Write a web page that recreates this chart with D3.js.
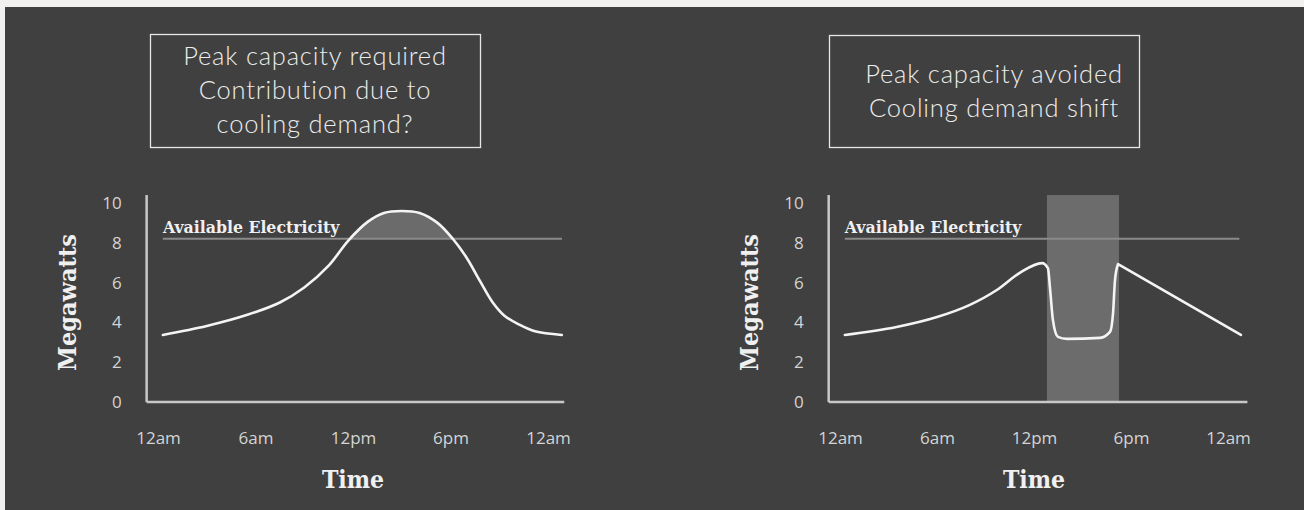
<!DOCTYPE html>
<html><head><meta charset="utf-8">
<script src="https://cdn.jsdelivr.net/npm/d3@7"></script>
<style>
html,body{margin:0;padding:0;background:#f2f1ef;}
svg{display:block;}
</style></head>
<body>
<svg id="chart" width="1304" height="510"></svg>
<script>
// ---- data ----
const xTickLabels = ["12am","6am","12pm","6pm","12am"];
const xTickHours = [0,6,12,18,24];
const yTicks = [0,2,4,6,8,10];
const availableElectricity = 8.2;

const titleLeft = ["Peak capacity required","Contribution due to","cooling demand?"];
const titleRight = ["Peak capacity avoided","Cooling demand shift"];

// demand without shift (hours, megawatts)
const demandHours = [0.3,3.0,5.5,7.5,9.0,10.5,11.7,12.9,13.9,15.0,16.1,17.2,18.15,19.0,19.8,20.6,21.3,22.2,23.2,24.85];
const demandValues = [3.37,3.82,4.38,5.0,5.75,6.85,8.1,9.05,9.5,9.6,9.5,9.0,8.19,7.24,6.1,5.0,4.35,3.9,3.55,3.37];

// demand with cooling shift (index of sharp corner where the straight decline starts)
const shiftHours = [0.3,3.5,6.0,8.0,9.7,11.1,12.5,12.86,13.0,13.17,13.48,14.04,16.08,16.7,16.89,17.01,17.2,24.8];
const shiftValues = [3.37,3.77,4.27,4.87,5.63,6.48,6.98,6.73,5.63,4.12,3.27,3.17,3.22,3.52,4.47,6.13,6.93,3.37];
const shiftCornerIndex = 16;
const shiftWindow = [12.8,17.26];

const svg = d3.select("#chart");
svg.append("rect").attr("x",5).attr("y",7).attr("width",1299).attr("height",503).attr("fill","#404040");

const slab = "'DejaVu Serif Condensed','DejaVu Serif',serif";
const sans = "'Open Sans', sans-serif";

function panel(opt){
  const x = d3.scaleLinear([0,24],opt.xr);
  const y = d3.scaleLinear([0,10],[402,203]);
  const g = svg.append("g");

  // title box
  g.append("rect").attr("x",opt.box[0]+0.5).attr("y",opt.box[1]+0.5)
    .attr("width",opt.box[2]).attr("height",opt.box[3])
    .attr("fill","none").attr("stroke","#e6e6e6").attr("stroke-width",1.3);
  g.selectAll("text.title").data(opt.title).join("text")
    .attr("class","title")
    .attr("x",opt.titleX).attr("y",(d,i)=>opt.titleY+i*34)
    .attr("text-anchor","middle")
    .attr("font-family","Lato, 'Open Sans', sans-serif").attr("font-weight",300)
    .attr("font-size",25.5).attr("letter-spacing",0.8).attr("fill","#ececec").text(d=>d);

  // shift window
  if(opt.band){
    g.append("rect").attr("x",x(opt.band[0])).attr("y",y(10.4))
      .attr("width",x(opt.band[1])-x(opt.band[0])).attr("height",y(0)-y(10.4))
      .attr("fill","#c4c4c4").attr("opacity",0.33);
  }

  const pts = opt.hours.map((h,i)=>[h,opt.values[i]]);
  const smoothPts = opt.corner!=null ? pts.slice(0,opt.corner+1) : pts;
  const straightPts = opt.corner!=null ? pts.slice(opt.corner) : [];
  const line = d3.line().x(d=>x(d[0])).y(d=>y(d[1])).curve(opt.curve);
  const lineLin = d3.line().x(d=>x(d[0])).y(d=>y(d[1]));

  // peak area above available electricity
  if(opt.fillPeak){
    const area = d3.area().x(d=>x(d[0])).y0(y(availableElectricity)).y1(d=>y(Math.max(d[1],availableElectricity)));
    const path = document.createElementNS("http://www.w3.org/2000/svg","path");
    path.setAttribute("d",line(pts));
    const L = path.getTotalLength();
    const samp=[];
    for(let s=0;s<=L;s+=1){const p=path.getPointAtLength(s);samp.push([x.invert(p.x),y.invert(p.y)]);}
    g.append("path").attr("d",area(samp)).attr("fill","#6b6b6b").attr("stroke","none");
  }

  // available electricity line
  g.append("line").attr("x1",x(opt.hours[0])).attr("x2",x(opt.lineEnd))
    .attr("y1",y(availableElectricity)).attr("y2",y(availableElectricity))
    .attr("stroke","#8a8a8a").attr("stroke-width",2);
  g.append("text").attr("x",x(opt.hours[0])).attr("y",y(availableElectricity)-6)
    .attr("font-family",slab).attr("font-weight","bold")
    .attr("font-size",17.5).attr("fill","#f0f0f0").text("Available Electricity");

  // demand curve
  const d = line(smoothPts) + (straightPts.length ? lineLin(straightPts).replace(/^M/,"L") : "");
  g.append("path").attr("d",d).attr("fill","none")
    .attr("stroke","#f4f4f4").attr("stroke-width",2.6).attr("stroke-linejoin","round").attr("stroke-linecap","round");

  // axes lines
  const ax0 = x(-0.7);
  g.append("line").attr("x1",ax0).attr("x2",ax0).attr("y1",y(10.4)).attr("y2",y(0))
    .attr("stroke","#c8c8c8").attr("stroke-width",2.5);
  g.append("line").attr("x1",ax0).attr("x2",x(opt.axisEnd)).attr("y1",y(0)).attr("y2",y(0))
    .attr("stroke","#c8c8c8").attr("stroke-width",2.5);

  // y ticks
  const yAxis = g.append("g").attr("transform",`translate(${ax0},0)`)
    .call(d3.axisLeft(y).tickValues(yTicks).tickSize(0).tickPadding(25).tickFormat(d3.format("d")));
  yAxis.select(".domain").remove();
  yAxis.selectAll("text").attr("font-family",sans).attr("font-size",17).attr("fill","#d4d4d4");

  // x ticks
  const xAxis = g.append("g").attr("transform",`translate(0,${y(0)})`)
    .call(d3.axisBottom(x).tickValues(xTickHours).tickSize(0).tickPadding(30).tickFormat((d,i)=>xTickLabels[i]));
  xAxis.select(".domain").remove();
  xAxis.selectAll("text").attr("font-family",sans).attr("font-size",17).attr("fill","#d4d4d4");

  // axis titles
  g.append("text").attr("transform",`translate(${ax0-79},${y(5)}) rotate(-90)`)
    .attr("text-anchor","middle").attr("dy","0.35em")
    .attr("font-family",slab).attr("font-weight","bold")
    .attr("font-size",25).attr("fill","#f0f0f0").text("Megawatts");
  g.append("text").attr("x",x(12)).attr("y",488).attr("text-anchor","middle")
    .attr("font-family",slab).attr("font-weight","bold")
    .attr("font-size",24.5).attr("fill","#f0f0f0").text("Time");
}

panel({xr:[158,548], box:[150,34,330,113], title:titleLeft, titleX:315, titleY:65,
  hours:demandHours, values:demandValues, fillPeak:true, lineEnd:24.86, axisEnd:25.0,
  curve:d3.curveCatmullRom.alpha(0.5)});
panel({xr:[840,1228], box:[829,35,310,112], title:titleRight, titleX:994, titleY:83,
  hours:shiftHours, values:shiftValues, band:shiftWindow, lineEnd:24.7, axisEnd:25.2,
  curve:d3.curveMonotoneX, corner:shiftCornerIndex});
</script>
</body></html>
